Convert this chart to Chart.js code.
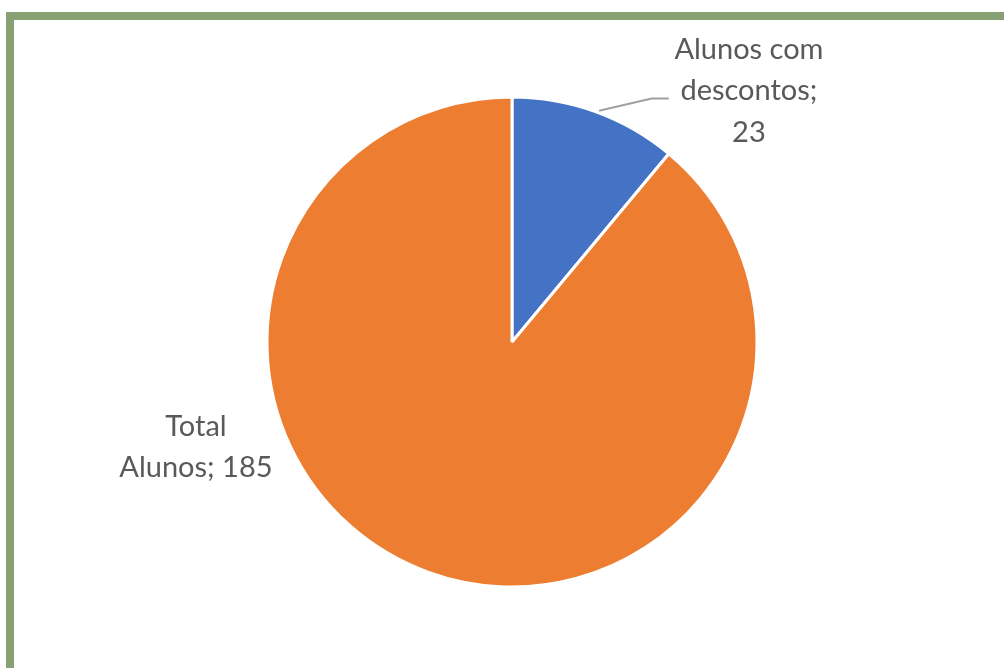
<!DOCTYPE html>
<html>
<head>
<meta charset="utf-8">
<script src="https://cdn.jsdelivr.net/npm/chart.js@4"></script>
<style>
    html, body { margin: 0; padding: 0; background: #fff; overflow: hidden; }
    #frame {
        position: absolute; left: 6px; top: 12px;
        width: 1100px; height: 800px;
        border: 8px solid #87a074;
        box-sizing: border-box;
    }
    #wrap { position: absolute; left: 0; top: 0; width: 1004px; height: 668px; }
</style>
</head>
<body>
<div id="frame"></div>
<div id="wrap"><canvas id="pie"></canvas></div>
<script>
// pie data
const categories = ['Alunos com descontos', 'Total Alunos'];
const values = [23, 185];
const labelLines = [['Alunos com', 'descontos;', '23'], ['Total', 'Alunos; 185']];
const colors = ['#4472c4', '#ed7d31'];

// labels outside the slices, placed relative to the arc (in radius units)
const labelOffsets = [{dx: 0.967, dy: -1.025}, {dx: -1.29, dy: 0.43}];

const outsideLabels = {
    id: 'outsideLabels',
    afterDatasetsDraw(chart) {
        const ctx = chart.ctx;
        const arcs = chart.getDatasetMeta(0).data;
        ctx.save();
        ctx.font = '29px Lato';
        ctx.fillStyle = '#595959';
        ctx.textAlign = 'center';
        ctx.textBaseline = 'middle';
        const lineH = 41.5;
        arcs.forEach((arc, i) => {
            const r = arc.outerRadius;
            const cx = arc.x + labelOffsets[i].dx * r;
            const cy = arc.y + labelOffsets[i].dy * r;
            const lines = labelLines[i];
            lines.forEach((t, k) => {
                ctx.fillText(t, cx, cy + (k - (lines.length - 1) / 2) * lineH);
            });
        });

        // leader line for the small slice
        const a = arcs[0];
        const r = a.outerRadius;
        const ang = -Math.PI / 2 + 0.36;
        ctx.strokeStyle = '#a0a0a0';
        ctx.lineWidth = 2;
        ctx.beginPath();
        ctx.moveTo(a.x + Math.cos(ang) * (r + 2), a.y + Math.sin(ang) * (r + 2));
        ctx.lineTo(a.x + 0.57 * r, a.y - 0.994 * r);
        ctx.lineTo(a.x + 0.64 * r, a.y - 0.994 * r);
        ctx.stroke();
        ctx.restore();
    }
};

new Chart(document.getElementById('pie'), {
    type: 'pie',
    data: {
        labels: categories,
        datasets: [{
            data: values,
            backgroundColor: colors,
            borderColor: '#ffffff',
            borderWidth: 3
        }]
    },
    options: {
        responsive: true,
        maintainAspectRatio: false,
        animation: false,
        layout: { padding: { left: 265.5, right: 245.5, top: 95.5, bottom: 79.5 } },
        plugins: {
            legend: { display: false },
            tooltip: { enabled: false }
        }
    },
    plugins: [outsideLabels]
});
</script>
</body>
</html>
